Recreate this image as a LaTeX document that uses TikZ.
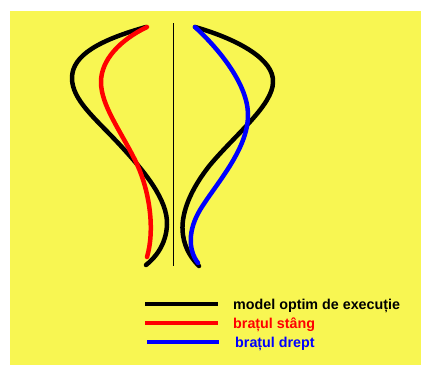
\documentclass[tikz,border=0pt]{standalone}
\usepackage{fontspec}
\setmainfont{Liberation Sans}
\begin{document}
\begin{tikzpicture}[x=1pt,y=-1pt,
  curve/.style={line width=4.5pt,line cap=round,line join=round},
  legline/.style={line width=4.5pt},
  legtext/.style={anchor=base west,inner sep=0pt,font=\fontsize{14.3}{16}\selectfont\bfseries}]
\definecolor{bgyellow}{RGB}{248,246,82}
\useasboundingbox (0,0) rectangle (421,365);
\fill[white] (0,0) rectangle (421,365);
\fill[bgyellow] (10,11) rectangle (421,365);
% axis
\coordinate (axtop) at (173,23);
\coordinate (axbot) at (173,266);
\draw[line width=1pt] (axtop) -- (axbot);
% left black
\draw[curve,black] (146,27) .. controls (100,40) and (72,55) .. (72,78)
  .. controls (72,100) and (95,118) .. (120,145)
  .. controls (145,172) and (168,200) .. (167,225)
  .. controls (166,245) and (155,258) .. (146,265);
% red
\draw[curve,red] (147,27) .. controls (120,40) and (101,60) .. (101,82)
  .. controls (101,105) and (120,130) .. (135,160)
  .. controls (150,190) and (155,230) .. (147,257);
% right black
\draw[curve,black] (195,27) .. controls (240,40) and (274,60) .. (273,82)
  .. controls (273,105) and (235,135) .. (210,165)
  .. controls (190,190) and (180,215) .. (183,235)
  .. controls (185,250) and (193,260) .. (199,266);
% blue
\draw[curve,blue] (195,27) .. controls (220,50) and (248,85) .. (248,115)
  .. controls (248,150) and (215,185) .. (200,210)
  .. controls (188,230) and (188,250) .. (198,263);
% legend
\coordinate (l1a) at (145,304); \coordinate (l1b) at (218,304);
\coordinate (l2a) at (145,323); \coordinate (l2b) at (218,323);
\coordinate (l3a) at (147,342); \coordinate (l3b) at (219,342);
\draw[legline,black] (l1a) -- (l1b);
\draw[legline,red] (l2a) -- (l2b);
\draw[legline,blue] (l3a) -- (l3b);
\node[legtext,text=black] (t1) at (233,309) {model optim de execuție};
\node[legtext,text=red] (t2) at (233,328) {brațul stâng};
\node[legtext,text=blue] (t3) at (235,347) {brațul drept};
\end{tikzpicture}
\end{document}
